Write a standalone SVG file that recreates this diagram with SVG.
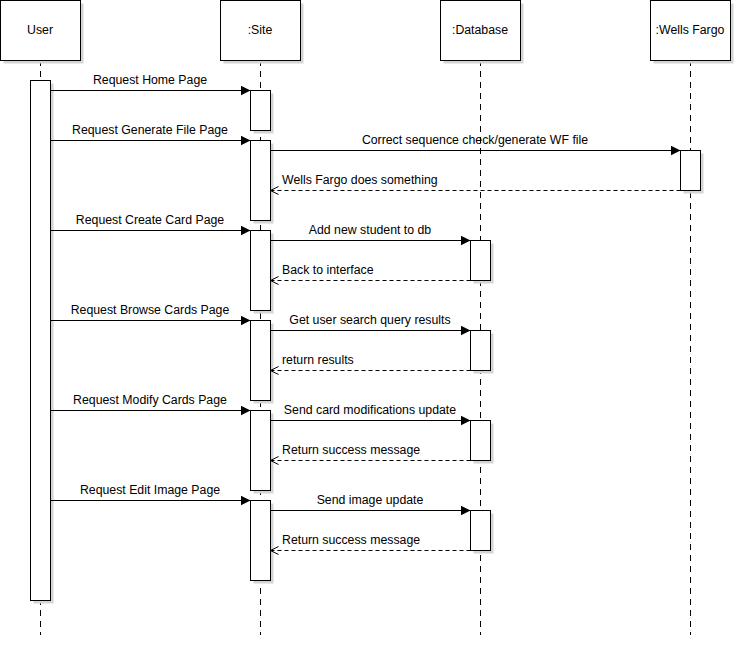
<svg xmlns="http://www.w3.org/2000/svg" width="735" height="645" viewBox="0 0 735 645">
<style>
text{font-family:"Liberation Sans",Arial,sans-serif;font-size:12.3px;fill:#000}
.box{fill:#fff;stroke:#000;stroke-width:1}
.sh{fill:#d4d4d4}
.life{stroke:#000;stroke-width:1;stroke-dasharray:6 5;fill:none}
.msg{stroke:#000;stroke-width:1;fill:none}
.ret{stroke:#000;stroke-width:1;fill:none;stroke-dasharray:4 3}
.c{text-anchor:middle}
</style>
<defs>
<marker id="fill" markerWidth="10" markerHeight="10" refX="10" refY="5" orient="auto" markerUnits="userSpaceOnUse">
<path d="M0,0 L10,5 L0,10 Z" fill="#000"/>
</marker>
<marker id="open" markerWidth="10" markerHeight="10" refX="9" refY="5" orient="auto" markerUnits="userSpaceOnUse">
<path d="M1,1 L9,5 L1,9" fill="none" stroke="#000" stroke-width="1"/>
</marker>
</defs>
<rect width="735" height="645" fill="#fff"/>
<g id="lifelines">
<line class="life" x1="40.5" y1="60" x2="40.5" y2="635"/>
<line class="life" x1="260.5" y1="60" x2="260.5" y2="635"/>
<line class="life" x1="480.5" y1="60" x2="480.5" y2="635"/>
<line class="life" x1="690.5" y1="60" x2="690.5" y2="635"/>
</g>
<g id="node-user">
<rect class="sh" x="3.5" y="3.5" width="80" height="60"/>
<rect class="box" x="0.5" y="0.5" width="80" height="60"/>
<text class="c" x="40" y="34">User</text>
</g>
<g id="node-site">
<rect class="sh" x="223.5" y="3.5" width="80" height="60"/>
<rect class="box" x="220.5" y="0.5" width="80" height="60"/>
<text class="c" x="260" y="34">:Site</text>
</g>
<g id="node-database">
<rect class="sh" x="443.5" y="3.5" width="80" height="60"/>
<rect class="box" x="440.5" y="0.5" width="80" height="60"/>
<text class="c" x="480" y="34">:Database</text>
</g>
<g id="node-wellsfargo">
<rect class="sh" x="653.5" y="3.5" width="80" height="60"/>
<rect class="box" x="650.5" y="0.5" width="80" height="60"/>
<text class="c" x="690" y="34">:Wells Fargo</text>
</g>
<g id="activations">
<rect class="sh" x="33.5" y="83.5" width="20" height="520"/>
<rect class="box" x="30.5" y="80.5" width="20" height="520"/>
<rect class="sh" x="253.5" y="93.5" width="20" height="40"/>
<rect class="box" x="250.5" y="90.5" width="20" height="40"/>
<rect class="sh" x="253.5" y="143.5" width="20" height="80"/>
<rect class="box" x="250.5" y="140.5" width="20" height="80"/>
<rect class="sh" x="253.5" y="233.5" width="20" height="80"/>
<rect class="box" x="250.5" y="230.5" width="20" height="80"/>
<rect class="sh" x="253.5" y="323.5" width="20" height="80"/>
<rect class="box" x="250.5" y="320.5" width="20" height="80"/>
<rect class="sh" x="253.5" y="413.5" width="20" height="80"/>
<rect class="box" x="250.5" y="410.5" width="20" height="80"/>
<rect class="sh" x="253.5" y="503.5" width="20" height="80"/>
<rect class="box" x="250.5" y="500.5" width="20" height="80"/>
<rect class="sh" x="683.5" y="153.5" width="20" height="40"/>
<rect class="box" x="680.5" y="150.5" width="20" height="40"/>
<rect class="sh" x="473.5" y="243.5" width="20" height="40"/>
<rect class="box" x="470.5" y="240.5" width="20" height="40"/>
<rect class="sh" x="473.5" y="333.5" width="20" height="40"/>
<rect class="box" x="470.5" y="330.5" width="20" height="40"/>
<rect class="sh" x="473.5" y="423.5" width="20" height="40"/>
<rect class="box" x="470.5" y="420.5" width="20" height="40"/>
<rect class="sh" x="473.5" y="513.5" width="20" height="40"/>
<rect class="box" x="470.5" y="510.5" width="20" height="40"/>
</g>
<g id="connectors">
<line class="msg" x1="50.5" y1="90.5" x2="250.5" y2="90.5" marker-end="url(#fill)"/>
<text class="c" x="150" y="84">Request Home Page</text>
<line class="msg" x1="50.5" y1="140.5" x2="250.5" y2="140.5" marker-end="url(#fill)"/>
<text class="c" x="150" y="134">Request Generate File Page</text>
<line class="msg" x1="270.5" y1="150.5" x2="680.5" y2="150.5" marker-end="url(#fill)"/>
<text class="c" x="475" y="144">Correct sequence check/generate WF file</text>
<line class="ret" x1="680.5" y1="190.5" x2="270.5" y2="190.5" marker-end="url(#open)"/>
<text x="282" y="184">Wells Fargo does something</text>
<line class="msg" x1="50.5" y1="230.5" x2="250.5" y2="230.5" marker-end="url(#fill)"/>
<text class="c" x="150" y="224">Request Create Card Page</text>
<line class="msg" x1="270.5" y1="240.5" x2="470.5" y2="240.5" marker-end="url(#fill)"/>
<text class="c" x="370" y="234">Add new student to db</text>
<line class="ret" x1="470.5" y1="280.5" x2="270.5" y2="280.5" marker-end="url(#open)"/>
<text x="282" y="274">Back to interface</text>
<line class="msg" x1="50.5" y1="320.5" x2="250.5" y2="320.5" marker-end="url(#fill)"/>
<text class="c" x="150" y="314">Request Browse Cards Page</text>
<line class="msg" x1="270.5" y1="330.5" x2="470.5" y2="330.5" marker-end="url(#fill)"/>
<text class="c" x="370" y="324">Get user search query results</text>
<line class="ret" x1="470.5" y1="370.5" x2="270.5" y2="370.5" marker-end="url(#open)"/>
<text x="282" y="364">return results</text>
<line class="msg" x1="50.5" y1="410.5" x2="250.5" y2="410.5" marker-end="url(#fill)"/>
<text class="c" x="150" y="404">Request Modify Cards Page</text>
<line class="msg" x1="270.5" y1="420.5" x2="470.5" y2="420.5" marker-end="url(#fill)"/>
<text class="c" x="370" y="414">Send card modifications update</text>
<line class="ret" x1="470.5" y1="460.5" x2="270.5" y2="460.5" marker-end="url(#open)"/>
<text x="282" y="454">Return success message</text>
<line class="msg" x1="50.5" y1="500.5" x2="250.5" y2="500.5" marker-end="url(#fill)"/>
<text class="c" x="150" y="494">Request Edit Image Page</text>
<line class="msg" x1="270.5" y1="510.5" x2="470.5" y2="510.5" marker-end="url(#fill)"/>
<text class="c" x="370" y="504">Send image update</text>
<line class="ret" x1="470.5" y1="550.5" x2="270.5" y2="550.5" marker-end="url(#open)"/>
<text x="282" y="544">Return success message</text>
</g>
</svg>
